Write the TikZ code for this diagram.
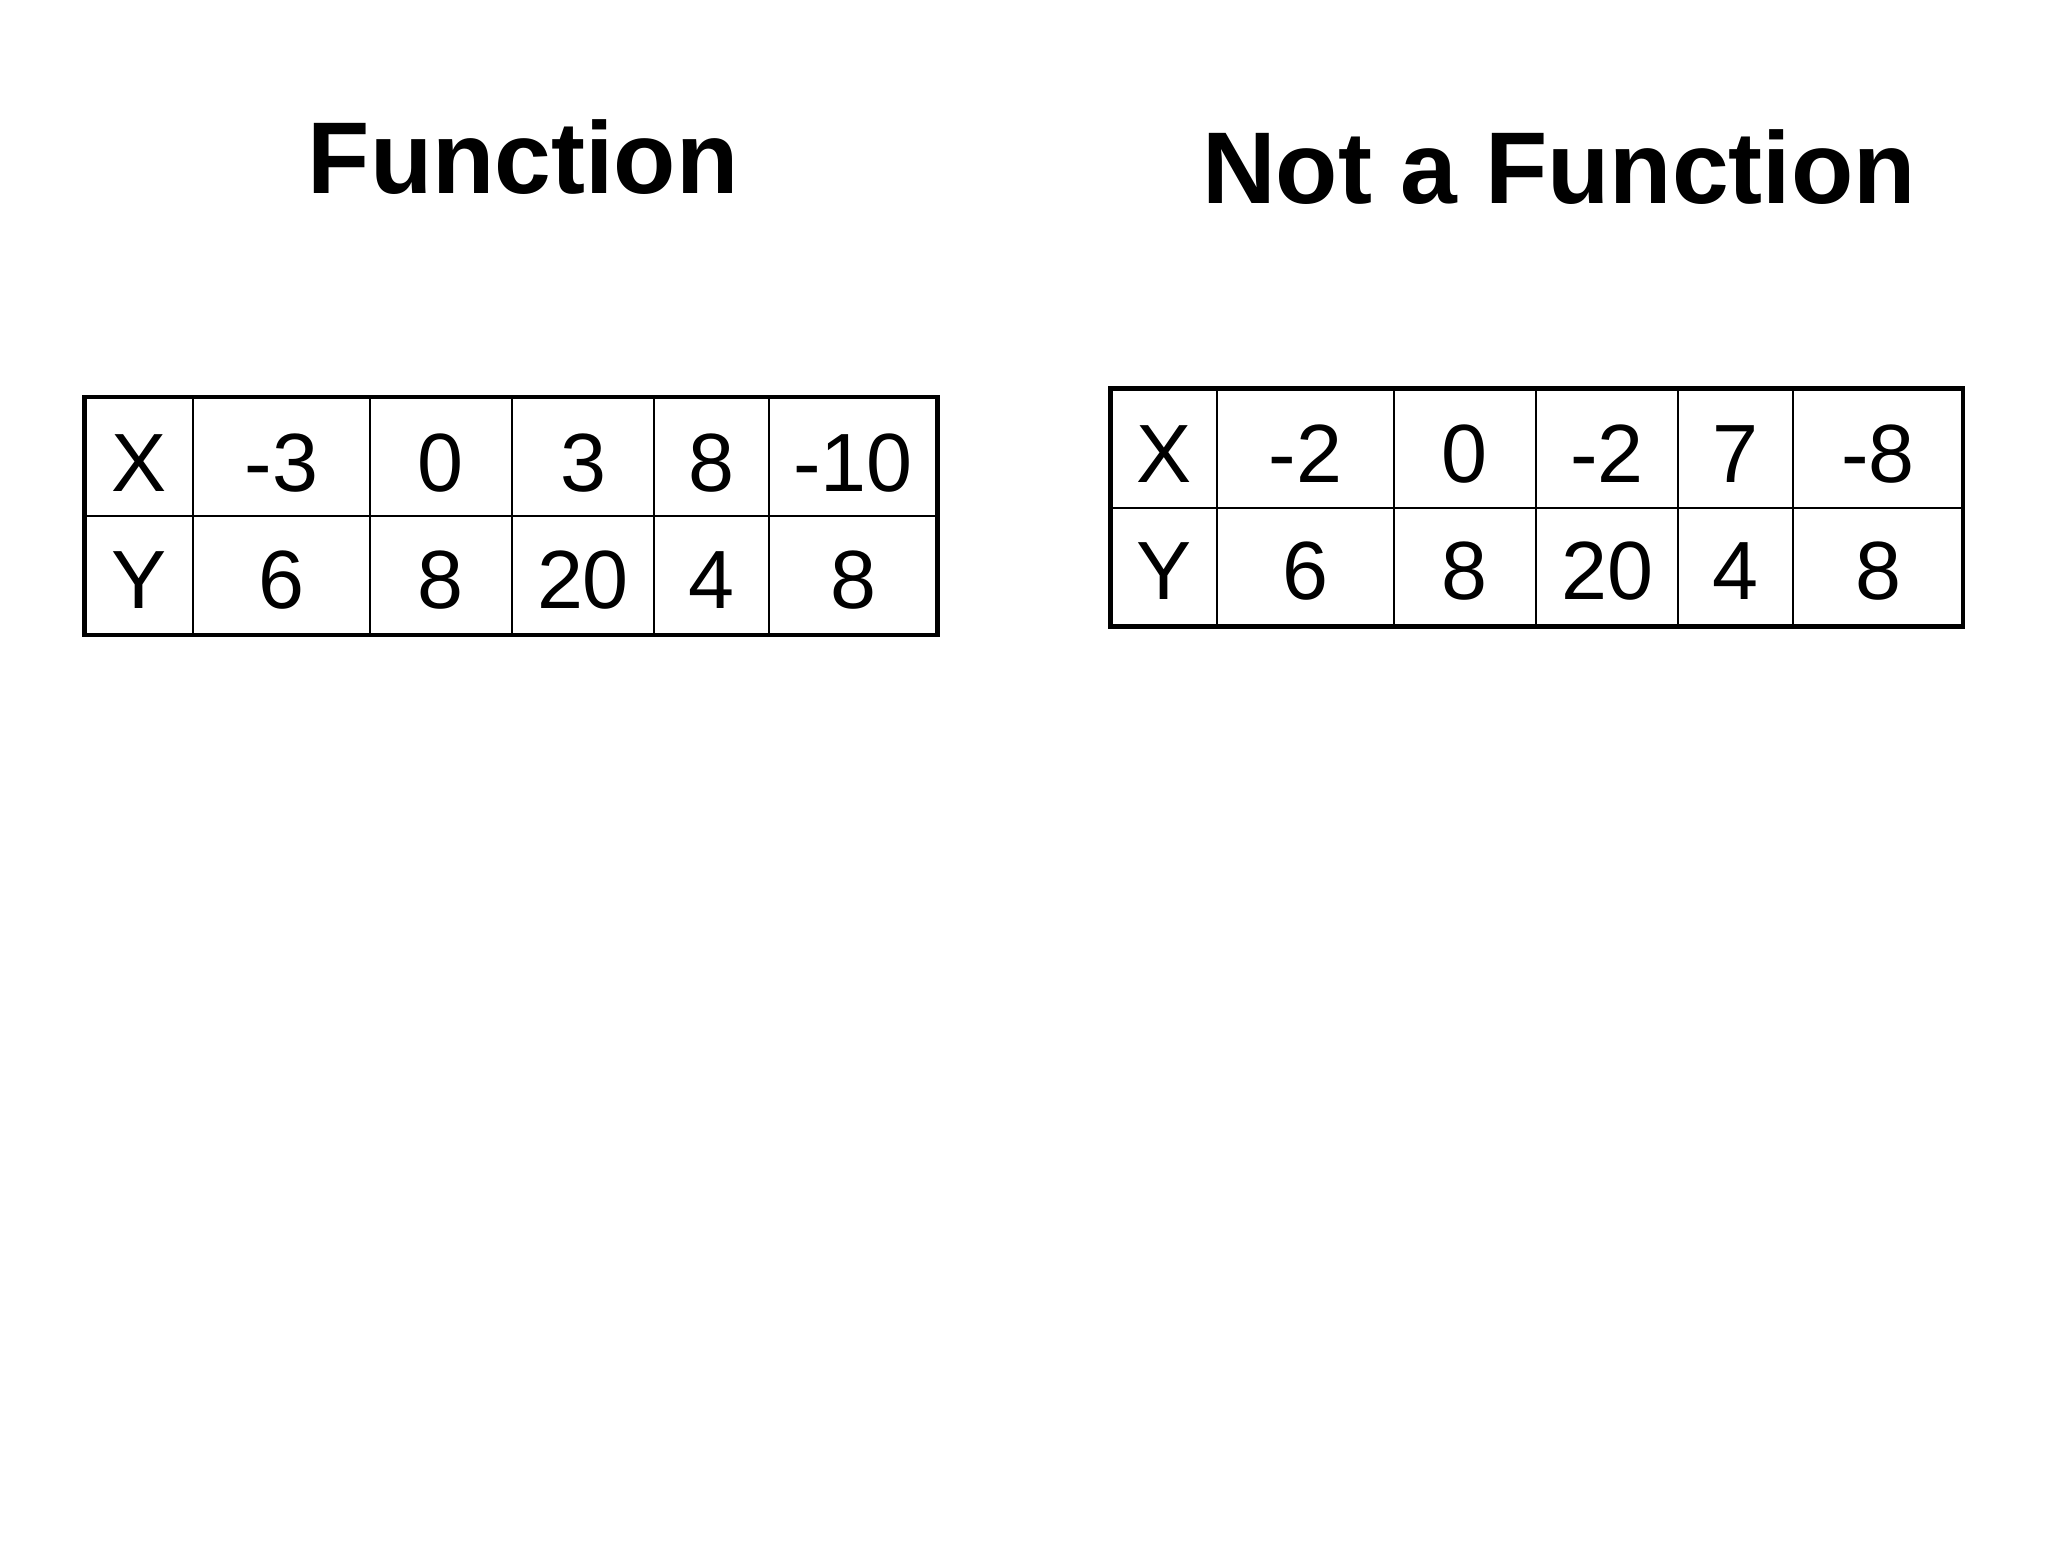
\documentclass[tikz,border=0pt]{standalone}
\usepackage{fontspec}
\setmainfont{Liberation Sans}
\usepackage{tikz}
\tikzset{%
        x = 0.01cm,
        y = -0.01cm
}
\tikzstyle{heading}=[
    font = \fontsize{29}{35}\selectfont\bfseries,
    anchor = base,
    inner sep = 0pt
]
\tikzstyle{cell}=[
    font = \fontsize{23.5}{28}\selectfont,
    anchor = base,
    inner sep = 0pt
]
\tikzstyle{frame}=[
    draw = black,
    line width = 0.045cm
]
\tikzstyle{rule}=[
    draw = black,
    line width = 0.02cm
]

\begin{document}
\begin{tikzpicture}
        \useasboundingbox (0,0) rectangle (2048,1560);
        \node[heading] (fun) at (523,193.5) {Function};
        \node[heading] (notfun) at (1559,203.5) {Not a Function};
        % function table
        \draw[rule] (84.5,516) -- (937.5,516)
        (193,397) -- (193,635) (369.5,397) -- (369.5,635)
        (512,397) -- (512,635) (654,397) -- (654,635)
        (768.5,397) -- (768.5,635);
        \draw[frame] (84.5,397) rectangle (937.5,635);
        \node[cell] (fx) at (138.8,491) {X};
        \node[cell] (fx1) at (281.3,491) {-3};
        \node[cell] (fx2) at (440.8,491) {0};
        \node[cell] (fx3) at (583,491) {3};
        \node[cell] (fx4) at (711.3,491) {8};
        \node[cell] (fx5) at (853,491) {-10};
        \node[cell] (fy) at (138.8,608) {Y};
        \node[cell] (fy1) at (281.3,608) {6};
        \node[cell] (fy2) at (440.8,608) {8};
        \node[cell] (fy3) at (583,608) {20};
        \node[cell] (fy4) at (711.3,608) {4};
        \node[cell] (fy5) at (853,608) {8};
        % not a function table
        \draw[rule] (1110.5,507.5) -- (1963,507.5)
        (1217,388.5) -- (1217,626.5) (1393.5,388.5) -- (1393.5,626.5)
        (1536,388.5) -- (1536,626.5) (1678,388.5) -- (1678,626.5)
        (1793,388.5) -- (1793,626.5);
        \draw[frame] (1110.5,388.5) rectangle (1963,626.5);
        \node[cell] (nx) at (1163.8,482.5) {X};
        \node[cell] (nx1) at (1305.3,482.5) {-2};
        \node[cell] (nx2) at (1464.8,482.5) {0};
        \node[cell] (nx3) at (1607,482.5) {-2};
        \node[cell] (nx4) at (1735.5,482.5) {7};
        \node[cell] (nx5) at (1878,482.5) {-8};
        \node[cell] (ny) at (1163.8,599.5) {Y};
        \node[cell] (ny1) at (1305.3,599.5) {6};
        \node[cell] (ny2) at (1464.8,599.5) {8};
        \node[cell] (ny3) at (1607,599.5) {20};
        \node[cell] (ny4) at (1735.5,599.5) {4};
        \node[cell] (ny5) at (1878,599.5) {8};
\end{tikzpicture}
\end{document}
